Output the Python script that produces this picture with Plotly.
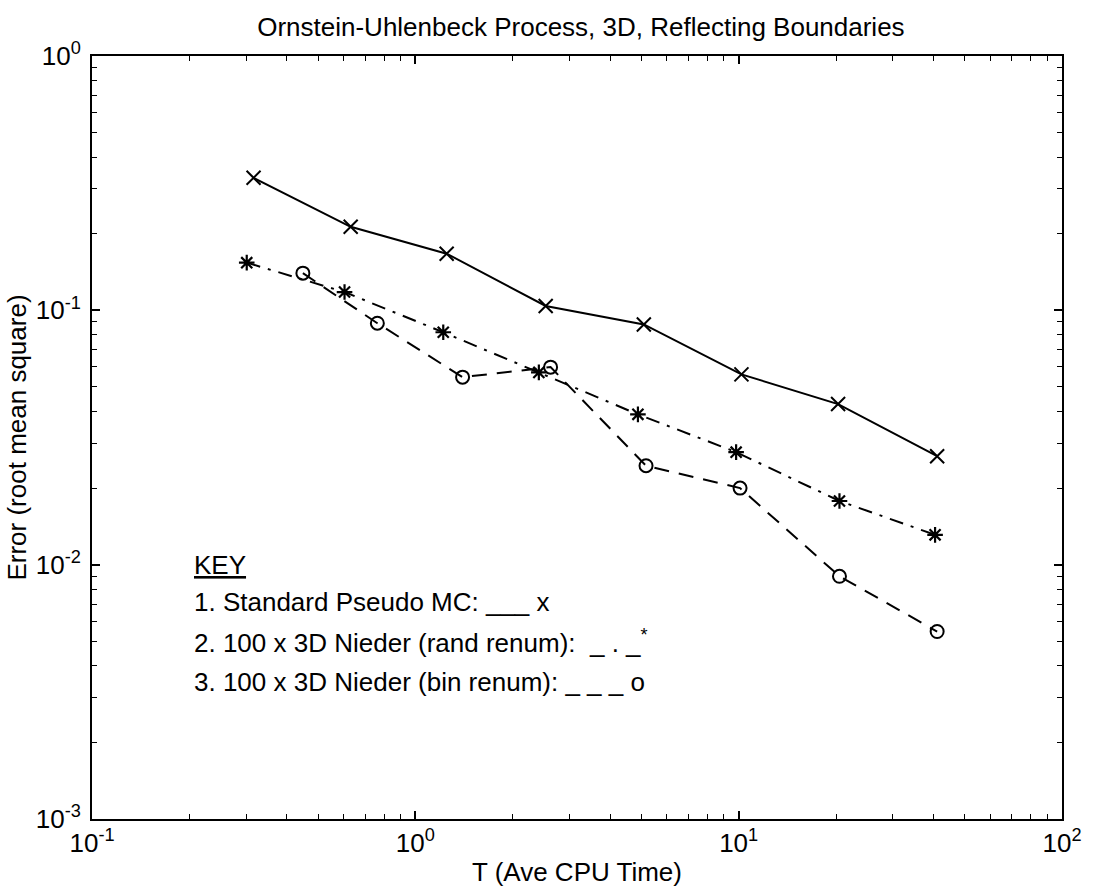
import plotly.graph_objects as go

# Series data
t_std = [0.316, 0.631, 1.25, 2.53, 5.09, 10.2, 20.3, 41.1]
err_std = [0.332, 0.213, 0.167, 0.104, 0.088, 0.056, 0.0428, 0.0267]

t_rand = [0.301, 0.604, 1.22, 2.41, 4.88, 9.82, 20.5, 40.5]
err_rand = [0.154, 0.118, 0.082, 0.057, 0.039, 0.0277, 0.0178, 0.0131]

t_bin = [0.449, 0.763, 1.40, 2.62, 5.17, 10.1, 20.5, 41.1]
err_bin = [0.140, 0.089, 0.0546, 0.0598, 0.0245, 0.020, 0.0090, 0.00546]

x_tickvals = [0.1, 1, 10, 100]
x_ticktext = ["10<sup>-1</sup>", "10<sup>0</sup>", "10<sup>1</sup>", "10<sup>2</sup>"]
y_tickvals = [0.001, 0.01, 0.1, 1]
y_ticktext = ["10<sup>-3</sup>", "10<sup>-2</sup>", "10<sup>-1</sup>", "10<sup>0</sup>"]

key_lines = [
    "1. Standard Pseudo MC: ___ x",
    "2. 100 x 3D Nieder (rand renum):  _ . _<sup>*</sup>",
    "3. 100 x 3D Nieder (bin renum): _ _ _ o",
]

FONT = "Liberation Sans, Arial, sans-serif"
FS = 26

x_minor = [m * 10 ** e for e in (-1, 0, 1) for m in range(2, 10)]
y_minor = [m * 10 ** e for e in (-3, -2, -1) for m in range(2, 10)]

fig = go.Figure()
fig.add_trace(go.Scatter(
    x=t_std, y=err_std, mode="lines+markers",
    line=dict(color="black", width=2, dash="solid"),
    marker=dict(symbol="x-thin-open", size=14, color="black",
                line=dict(color="black", width=2)),
))
fig.add_trace(go.Scatter(
    x=t_rand, y=err_rand, mode="lines+markers",
    line=dict(color="black", width=2, dash="14px,8px,3px,8px"),
    marker=dict(symbol="asterisk-open", size=13, color="black",
                line=dict(color="black", width=2.2)),
))
fig.add_trace(go.Scatter(
    x=t_bin, y=err_bin, mode="lines+markers",
    line=dict(color="black", width=2, dash="15px,10px"),
    marker=dict(symbol="circle-open", size=13, color="black",
                line=dict(color="black", width=2)),
))

axis_common = dict(
    showline=True, linecolor="black", linewidth=2, mirror="allticks",
    ticks="inside", ticklen=8, tickwidth=1.5, tickcolor="black",
    showgrid=False, zeroline=False,
    tickfont=dict(family=FONT, size=FS, color="black"),
    title_font=dict(family=FONT, size=FS, color="black"),
)

fig.update_xaxes(
    type="log", range=[-1, 2],
    tickmode="array", tickvals=x_tickvals, ticktext=x_ticktext,
    minor=dict(tickmode="array", tickvals=x_minor, ticks="inside",
               ticklen=5, tickwidth=1.2, tickcolor="black", showgrid=False),
    title=dict(text="T (Ave CPU Time)", standoff=6),
    **axis_common,
)
fig.update_yaxes(
    type="log", range=[-3, 0],
    tickmode="array", tickvals=y_tickvals, ticktext=y_ticktext,
    ticklabelstandoff=4,
    minor=dict(tickmode="array", tickvals=y_minor, ticks="inside",
               ticklen=5, tickwidth=1.2, tickcolor="black", showgrid=False),
    title=dict(text="Error (root mean square)", standoff=2),
    **axis_common,
)

annotations = [dict(
    text="<u>KEY</u>", xref="paper", yref="paper", x=0.103, y=0.333,
    xanchor="left", yanchor="middle", showarrow=False,
    font=dict(family=FONT, size=FS, color="black"),
)]
for i, line in enumerate(key_lines):
    annotations.append(dict(
        text=line, xref="paper", yref="paper", x=0.103, y=0.284 - 0.052 * i,
        xanchor="left", yanchor="middle", showarrow=False,
        font=dict(family=FONT, size=FS, color="black"),
    ))

fig.update_layout(
    width=1094, height=894,
    margin=dict(l=92, r=23, t=56, b=73),
    paper_bgcolor="white", plot_bgcolor="white",
    showlegend=False,
    title=dict(text="Ornstein-Uhlenbeck Process, 3D, Reflecting Boundaries",
               x=0.531, xanchor="center", y=0.970, yanchor="middle",
               xref="container", yref="container",
               font=dict(family=FONT, size=FS, color="black")),
    annotations=annotations,
)

fig.write_html("out.html")
